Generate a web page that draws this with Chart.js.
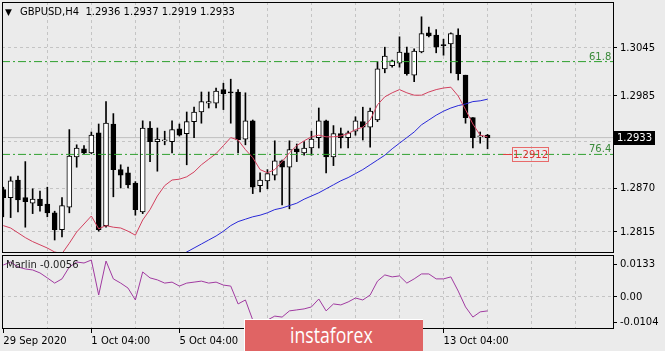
<!DOCTYPE html>
<html>
<head>
<meta charset="utf-8">
<script src="https://cdn.jsdelivr.net/npm/chart.js@4/dist/chart.umd.min.js"></script>
<style>
  body { margin: 0; background: #ebebeb; width: 665px; height: 351px; overflow: hidden; position: relative; font-family: "DejaVu Sans", sans-serif; }
  canvas { position: absolute; left: 0; }
  #main { top: 0; }
  #sub { top: 254px; }
  .lbl { position: absolute; font-size: 10px; line-height: 12px; white-space: pre; }
  #logo { position: absolute; left: 244px; top: 319px; width: 178px; height: 40px; background: #e06464; border-top: 1px solid #fff; border-left: 1px solid #fff; }
  #logo span { position: absolute; left: 45px; top: 2px; color: #fff; font-family: "Open Sans", sans-serif; font-size: 21px; line-height: 26px; transform: scaleX(0.84); transform-origin: left; }
</style>
</head>
<body>
<canvas id="main" width="665" height="256"></canvas>
<canvas id="sub" width="665" height="97"></canvas>

<div class="lbl" style="left:5px;top:6px;font-size:9px;">▼</div>
<div class="lbl" style="left:20px;top:6px;">GBPUSD,H4  1.2936 1.2937 1.2919 1.2933</div>
<div class="lbl" style="left:589px;top:51px;color:#3a8a3a;">61.8</div>
<div class="lbl" style="left:589px;top:143px;color:#3a8a3a;">76.4</div>
<div class="lbl" style="left:614px;top:131px;width:41px;height:14px;line-height:14px;background:#000;color:#fff;text-align:center;">1.2933</div>
<div style="position:absolute;left:503px;top:154px;width:9px;height:1px;background:#e04040;"></div>
<div class="lbl" style="left:512px;top:147px;width:35px;height:13px;line-height:13px;border:1px solid #e86a6a;color:#e03030;text-align:center;">1.2912</div>
<div class="lbl" style="left:6px;top:259px;color:#222;">Marlin -0.0056</div>
<div id="logo"><span>instaforex</span></div>

<script>
// H4 candles, bar 0 = 29 Sep 2020
var opens = [1.2868,1.2858,1.2880,1.2858,1.2851,1.2856,1.2850,1.2839,1.2818,1.2846,
  1.2909,1.2919,1.2914,1.2939,1.2823,1.2950,1.2893,1.2889,1.2876,1.2840,
  1.2945,1.2928,1.2929,1.2928,1.2944,1.2938,1.2953,1.2965,1.2976,1.2976,
  1.2993,1.2990,1.2990,1.2931,1.2954,1.2873,1.2879,1.2886,1.2904,1.2896,
  1.2919,1.2914,1.2920,1.2933,1.2954,1.2909,1.2938,1.2933,1.2941,1.2953,
  1.2946,1.2955,1.3019,1.3023,1.3026,1.3039,1.3011,1.3040,1.3064,1.3061,
  1.3049,1.3050,1.3061,1.3011,1.2958,1.2934,1.2936];
var highs = [1.2871,1.2884,1.2885,1.2903,1.2869,1.2866,1.2871,1.2841,1.2858,1.2943,
  1.2924,1.2923,1.2940,1.2950,1.2978,1.2963,1.2899,1.2896,1.2878,1.2954,
  1.2953,1.2945,1.2941,1.2954,1.2950,1.2965,1.2971,1.2990,1.2990,1.2995,
  1.3001,1.3006,1.2993,1.2989,1.2955,1.2889,1.2893,1.2929,1.2905,1.2929,
  1.2925,1.2928,1.2941,1.2970,1.2955,1.2948,1.2945,1.2941,1.2959,1.2971,
  1.2970,1.3028,1.3046,1.3030,1.3059,1.3046,1.3044,1.3084,1.3071,1.3068,
  1.3056,1.3064,1.3069,1.3011,1.2958,1.2940,1.2937];
var lows = [1.2834,1.2833,1.2840,1.2821,1.2838,1.2841,1.2834,1.2805,1.2809,1.2839,
  1.2896,1.2913,1.2913,1.2816,1.2821,1.2859,1.2870,1.2870,1.2836,1.2838,
  1.2903,1.2891,1.2924,1.2914,1.2935,1.2899,1.2933,1.2951,1.2970,1.2970,
  1.2968,1.2951,1.2914,1.2924,1.2863,1.2865,1.2869,1.2880,1.2849,1.2844,
  1.2903,1.2911,1.2911,1.2920,1.2889,1.2898,1.2920,1.2920,1.2936,1.2930,
  1.2921,1.2953,1.3014,1.3021,1.3021,1.3011,1.3003,1.3039,1.3059,1.3039,
  1.3036,1.3014,1.3005,1.2951,1.2920,1.2926,1.2919];
var closes = [1.2858,1.2879,1.2855,1.2853,1.2856,1.2848,1.2839,1.2818,1.2848,1.2910,
  1.2920,1.2914,1.2936,1.2818,1.2951,1.2893,1.2886,1.2874,1.2843,1.2945,
  1.2928,1.2931,1.2930,1.2943,1.2936,1.2953,1.2965,1.2978,1.2978,1.2991,
  1.2988,1.2989,1.2930,1.2954,1.2871,1.2880,1.2888,1.2904,1.2896,1.2918,
  1.2915,1.2920,1.2931,1.2954,1.2909,1.2938,1.2933,1.2939,1.2954,1.2946,
  1.2966,1.3019,1.3035,1.3029,1.3040,1.3013,1.3041,1.3063,1.3060,1.3046,
  1.3048,1.3063,1.3013,1.2958,1.2933,1.2935,1.2933];

// moving averages (red fast, blue slow starts at bar 24, below is off-screen)
var maFast = [1.2823,1.2820,1.2814,1.2808,1.2803,1.2799,1.2795,1.2790,1.2788,1.2801,
  1.2815,1.2825,1.2835,1.2819,1.2823,1.2821,1.2820,1.2816,1.2811,1.2830,
  1.2843,1.2860,1.2873,1.2880,1.2881,1.2884,1.2890,1.2899,1.2906,1.2913,
  1.2923,1.2933,1.2930,1.2918,1.2908,1.2893,1.2889,1.2893,1.2903,1.2914,
  1.2923,1.2929,1.2934,1.2936,1.2934,1.2934,1.2935,1.2938,1.2943,1.2946,
  1.2955,1.2974,1.2984,1.2989,1.2993,1.2989,1.2986,1.2986,1.2990,1.2993,
  1.2995,1.2996,1.2985,1.2968,1.2950,1.2936,1.2934];
var maSlowStart = 24;
var maSlow = [1.2785,1.2790,1.2795,1.2800,1.2805,1.2810,1.2816,1.2823,1.2828,1.2831,
  1.2834,1.2836,1.2839,1.2843,1.2845,1.2848,1.2851,1.2856,1.2860,1.2864,
  1.2869,1.2874,1.2879,1.2883,1.2888,1.2893,1.2899,1.2905,1.2911,1.2919,
  1.2926,1.2933,1.2940,1.2949,1.2955,1.2961,1.2966,1.2970,1.2973,1.2975,
  1.2978,1.2979,1.2981];

var marlin = [0.0129,0.0141,0.0121,0.0113,0.0109,0.0097,0.0077,0.0056,0.0073,0.0121,
  0.0141,0.0137,0.0149,0.0008,0.0145,0.0073,0.0056,0.0036,-0.0012,0.0101,
  0.0077,0.0069,0.0056,0.0060,0.0044,0.0056,0.0060,0.0064,0.0056,0.0060,
  0.0048,0.0044,-0.0028,-0.0012,-0.0093,-0.0117,-0.0093,-0.0077,-0.0081,-0.0056,
  -0.0052,-0.0048,-0.0040,-0.0008,-0.0056,-0.0028,-0.0032,-0.0020,-0.0004,-0.0012,
  0.0008,0.0064,0.0089,0.0081,0.0085,0.0056,0.0073,0.0093,0.0093,0.0073,
  0.0073,0.0081,0.0024,-0.0040,-0.0081,-0.0060,-0.0056];

var fibLevels = [1.2912, 1.3028];
var bidPrice = 1.2933;
var priceTicks = [1.2815, 1.2870, 1.2928, 1.2985, 1.3045];
var marlinTicks = [-0.0104, 0, 0.0133];
var marlinLabels = ['-0.0104', '0.00', '0.0133'];
var dateTicks = [0, 12, 24, 36, 48, 60];
var dateLabels = ['29 Sep 2020', '1 Oct 04:00', '5 Oct 04:00', '7 Oct 04:00', '9 Oct 04:00', '13 Oct 04:00'];
var gridBars = [6, 12, 18, 24, 30, 36, 42, 48, 54, 60, 66, 72, 78];

var X_MIN = -0.177, X_MAX = 83.10;
var GRID = '#c4c4c4';
var FIB = '#2fa02f';

Chart.defaults.font.family = 'DejaVu Sans';
Chart.defaults.font.size = 10;
Chart.defaults.color = '#000';
Chart.defaults.animation = false;

var framePlugin = {
  id: 'frame',
  afterDatasetsDraw: function(chart) {
    var a = chart.chartArea, c = chart.ctx;
    c.save();
    c.strokeStyle = '#000';
    c.lineWidth = 1;
    c.strokeRect(Math.round(a.left) + 0.5, Math.round(a.top) + 0.5,
      Math.round(a.right - a.left), Math.round(a.bottom - a.top) - 1);
    c.restore();
  }
};

// drop the label-overflow padding so the plot area sits where I put it
function noPad(s) {
  s.paddingTop = 0; s.paddingBottom = 0; s.paddingLeft = 0; s.paddingRight = 0;
}

function pts(arr, start) {
  start = start || 0;
  return arr.map(function(v, i) { return {x: i + start, y: v}; });
}
function hline(v) {
  return [{x: X_MIN, y: v}, {x: X_MAX, y: v}];
}

var wicks = lows.map(function(l, i) { return {x: i, y: [l, highs[i]]}; });
var bodies = opens.map(function(o, i) { return {x: i, y: [o, closes[i]]}; });

var fibSets = fibLevels.map(function(v) {
  return { type: 'line', data: hline(v), borderColor: FIB, backgroundColor: FIB, borderWidth: 1,
    borderDash: [8, 3, 2, 3], borderCapStyle: 'butt', pointRadius: 0, order: 0 };
});

// main price pane
new Chart(document.getElementById('main'), {
  type: 'bar',
  data: {
    datasets: fibSets.concat([
      { type: 'line', data: pts(maFast), borderColor: '#d2405e', borderWidth: 1, pointRadius: 0, order: 1 },
      { type: 'line', data: pts(maSlow, maSlowStart), borderColor: '#2828d8', borderWidth: 1, pointRadius: 0, order: 1 },
      { data: bodies, barThickness: 5, minBarLength: 1, borderWidth: 1, borderSkipped: false, borderColor: '#000',
        backgroundColor: function(ctx) { var i = ctx.dataIndex; return closes[i] >= opens[i] ? '#fff' : '#000'; }, order: 2 },
      { data: wicks, barThickness: 1, backgroundColor: '#000', borderWidth: 0, order: 3 },
      { type: 'line', data: hline(bidPrice), borderColor: '#c0c0c0', borderWidth: 1, pointRadius: 0, order: 4 }
    ])
  },
  options: {
    responsive: false,
    layout: { padding: { top: 2, bottom: 3, left: 2, right: 0 } },
    plugins: { legend: { display: false }, tooltip: { enabled: false } },
    datasets: { bar: { grouped: false } },
    scales: {
      x: {
        type: 'linear', min: X_MIN, max: X_MAX, offset: false,
        afterBuildTicks: function(axis) { axis.ticks = gridBars.map(function(v) { return {value: v}; }); },
        afterFit: function(s) { s.height = 0; noPad(s); },
        ticks: { display: false },
        grid: { color: GRID, drawTicks: false, offset: false },
        border: { display: false, dash: [3, 3] }
      },
      y: {
        position: 'right',
        min: 1.278875, max: 1.31025,
        afterBuildTicks: function(axis) { axis.ticks = priceTicks.map(function(v) { return {value: v}; }); },
        afterFit: function(s) { s.width = 52; noPad(s); },
        ticks: {
          padding: 3,
          callback: function(v) { return v === 1.2928 ? '' : v.toFixed(4); }
        },
        grid: { color: GRID, tickColor: '#000', tickLength: 4 },
        border: { display: false, dash: [3, 3] }
      }
    }
  },
  plugins: [framePlugin]
});

// Marlin oscillator pane
new Chart(document.getElementById('sub'), {
  type: 'line',
  data: {
    datasets: [
      { data: pts(marlin), borderColor: '#a03aa0', borderWidth: 1, pointRadius: 0 }
    ]
  },
  options: {
    responsive: false,
    layout: { padding: { top: 1, bottom: 0, left: 2, right: 0 } },
    plugins: { legend: { display: false }, tooltip: { enabled: false } },
    scales: {
      x: {
        type: 'linear', min: X_MIN, max: X_MAX, offset: false,
        afterBuildTicks: function(axis) {
          axis.ticks = [0].concat(gridBars).map(function(v) { return {value: v}; });
        },
        afterFit: function(s) { s.height = 22; noPad(s); },
        ticks: {
          autoSkip: false, maxRotation: 0, align: 'start', padding: 2,
          callback: function(v) { var k = dateTicks.indexOf(v); return k < 0 ? '' : dateLabels[k]; }
        },
        grid: {
          color: function(ctx) { return ctx.tick && ctx.tick.value === 0 ? 'rgba(0,0,0,0)' : GRID; },
          tickColor: function(ctx) { return ctx.tick && dateTicks.indexOf(ctx.tick.value) >= 0 ? '#000' : 'rgba(0,0,0,0)'; },
          tickLength: 4
        },
        border: { display: false, dash: [3, 3] }
      },
      y: {
        position: 'right',
        min: -0.0129, max: 0.01693,
        afterBuildTicks: function(axis) { axis.ticks = marlinTicks.map(function(v) { return {value: v}; }); },
        afterFit: function(s) { s.width = 52; noPad(s); },
        ticks: {
          padding: 3,
          callback: function(v) { var k = marlinTicks.indexOf(v); return k < 0 ? '' : marlinLabels[k]; }
        },
        grid: {
          color: function(ctx) { return ctx.tick && ctx.tick.value === 0 ? GRID : 'rgba(0,0,0,0)'; },
          tickColor: '#000', tickLength: 4
        },
        border: { display: false, dash: [3, 3] }
      }
    }
  },
  plugins: [framePlugin]
});
</script>
</body>
</html>
